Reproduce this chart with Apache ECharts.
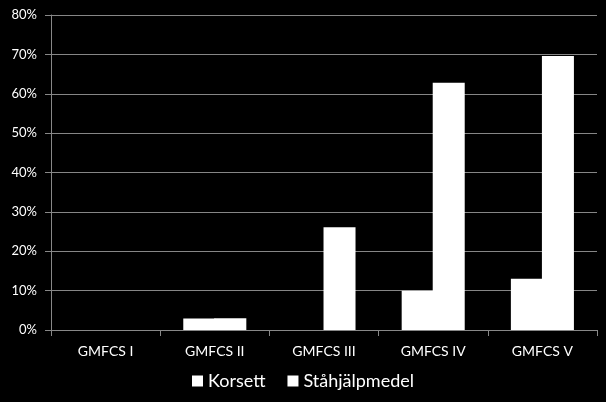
<!DOCTYPE html>
<html><head><meta charset="utf-8">
<script src="https://cdn.jsdelivr.net/npm/echarts@6/dist/echarts.min.js"></script>
<style>html,body{margin:0;padding:0;background:#000}#c{width:606px;height:402px}</style>
</head><body><div id="c"></div>
<script>
const categories = ['GMFCS I', 'GMFCS II', 'GMFCS III', 'GMFCS IV', 'GMFCS V'];
const korsett = [0, 2.9, 0, 10.0, 13.0];
const stahjalpmedel = [0, 3.0, 26.1, 62.8, 69.6];
const seriesNames = ['Korsett', 'Ståhjälpmedel'];

const font = 'Lato, "Open Sans", sans-serif';
const chart = echarts.init(document.getElementById('c'));
chart.setOption({
  backgroundColor: '#000',
  animation: false,
  grid: { left: 51, right: 9, top: 15, bottom: 72 },
  legend: {
    bottom: 7, left: 'center',
    itemWidth: 11, itemHeight: 11, itemGap: 22,
    icon: 'rect',
    textStyle: { color: '#fff', fontSize: 18, fontFamily: font },
    data: seriesNames
  },
  xAxis: {
    type: 'category', data: categories,
    axisLine: { lineStyle: { color: '#888', width: 1 } },
    axisTick: { show: true, length: 6, alignWithLabel: false, lineStyle: { color: '#888' } },
    axisLabel: { color: '#fff', fontSize: 14, fontFamily: font, margin: 14 }
  },
  yAxis: {
    type: 'value', min: 0, max: 80, interval: 10,
    axisLine: { show: true, lineStyle: { color: '#888', width: 1 } },
    axisTick: { show: true, length: 6, lineStyle: { color: '#888' } },
    splitLine: { lineStyle: { color: '#868686', width: 1 } },
    axisLabel: { color: '#fff', fontSize: 13, fontFamily: font, margin: 14, formatter: '{value}%' }
  },
  series: [
    { name: seriesNames[0], type: 'bar', data: korsett, barWidth: 32, barGap: '-3%',
      itemStyle: { color: '#fff' } },
    { name: seriesNames[1], type: 'bar', data: stahjalpmedel, barWidth: 32, barGap: '-3%',
      itemStyle: { color: '#fff' } }
  ]
});
</script></body></html>
